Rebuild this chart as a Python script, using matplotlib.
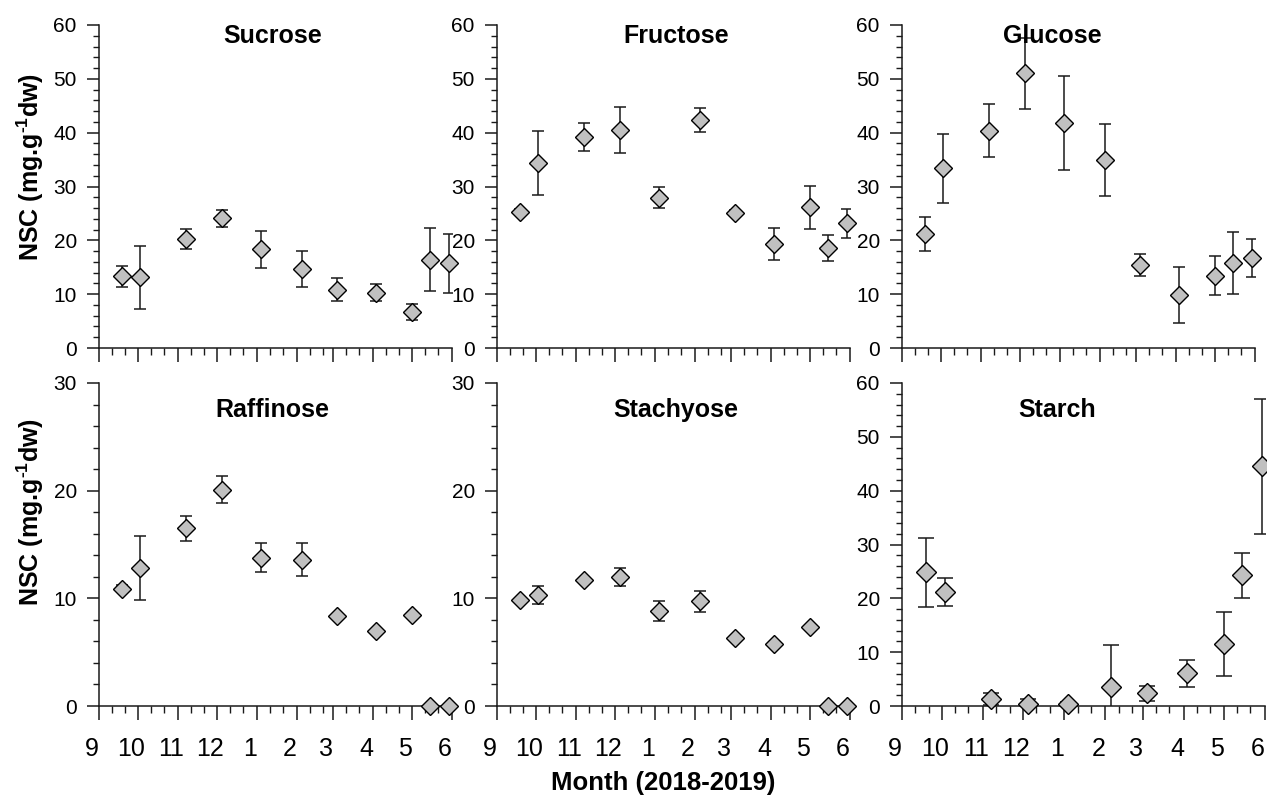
import matplotlib
matplotlib.use('Agg')
import matplotlib.pyplot as plt
import matplotlib.dates as mdates
import matplotlib.ticker as mticker
import matplotlib.transforms as mtransforms
import pandas as pd
import datetime as dt

plt.rcParams['font.family'] = ['Liberation Sans', 'DejaVu Sans']
plt.rcParams['mathtext.default'] = 'regular'

# ---------------- data ----------------
sample_dates = ['2018-09-19', '2018-10-03', '2018-11-07', '2018-12-05', '2019-01-04',
                '2019-02-05', '2019-03-04', '2019-04-03', '2019-05-01', '2019-05-15',
                '2019-05-30']

sucrose = [13.3, 13.1, 20.2, 24.1, 18.3, 14.7, 10.8, 10.3, 6.7, 16.4, 15.7]
sucrose_se = [2.0, 5.85, 1.85, 1.55, 3.35, 3.4, 2.15, 1.65, 1.55, 5.9, 5.55]

fructose = [25.3, 34.4, 39.2, 40.5, 27.9, 42.4, 25.1, 19.3, 26.1, 18.6, 23.2]
fructose_se = [0.6, 5.95, 2.6, 4.3, 1.95, 2.25, 0.6, 2.95, 3.95, 2.4, 2.7]

glucose = [21.2, 33.4, 40.4, 51.0, 41.8, 34.9, 15.4, 9.8, 13.4, 15.8, 16.7]
glucose_se = [3.15, 6.4, 5.0, 6.65, 8.8, 6.7, 2.1, 5.2, 3.6, 5.8, 3.55]

raffinose = [10.9, 12.8, 16.5, 20.1, 13.75, 13.6, 8.36, 6.97, 8.48, 0.0, 0.0]
raffinose_se = [0.3, 3.0, 1.15, 1.25, 1.35, 1.55, 0.2, 0.2, 0.2, 0.0, 0.0]

stachyose = [9.81, 10.34, 11.67, 11.98, 8.82, 9.72, 6.32, 5.79, 7.34, 0.0, 0.0]
stachyose_se = [0.2, 0.85, 0.2, 0.8, 0.9, 0.96, 0.2, 0.2, 0.2, 0.0, 0.0]

starch = [24.8, 21.2, 1.3, 0.43, 0.3, 3.5, 2.4, 6.1, 11.5, 24.3, 44.5]
starch_se = [6.5, 2.6, 1.1, 0.8, 0.4, 7.8, 1.4, 2.5, 5.95, 4.2, 12.6]

panel_titles = ['Sucrose', 'Fructose', 'Glucose', 'Raffinose', 'Stachyose', 'Starch']
y_label = 'NSC (mg.g$^{\u2010' + '1}$dw)'
x_label = 'Month (2018-2019)'

# ---------------- figure ----------------
W, H = 1267, 800
fig = plt.figure(figsize=(W / 100, H / 100), dpi=100)


def px_axes(left, top, width, height):
    return fig.add_axes([left / W, 1 - (top + height) / H, width / W, height / H])


dates = pd.to_datetime(sample_dates)
x0 = dt.datetime(2018, 9, 1)
x1 = dt.datetime(2019, 6, 1)

# (values, se, ymax, left, top, width, title_x, title_y, capsize, ms, show_xlabels)
panels = [
    (sucrose, sucrose_se, 60, 99, 25, 353, 0.4915, 0.966, 4.0, 8.8, False),
    (fructose, fructose_se, 60, 497, 25, 353, 0.5065, 0.966, 4.0, 8.8, False),
    (glucose, glucose_se, 60, 902, 25, 353, 0.426, 0.966, 4.0, 8.8, False),
    (raffinose, raffinose_se, 30, 99, 383, 353, 0.4915, 0.916, 4.3, 8.8, True),
    (stachyose, stachyose_se, 30, 497, 383, 353, 0.507, 0.916, 4.3, 8.8, True),
    (starch, starch_se, 60, 902, 383, 363, 0.426, 0.916, 6.0, 9.8, True),
]

month_fmt = mticker.FuncFormatter(lambda v, pos: str(mdates.num2date(v).month))
label_shift = mtransforms.ScaledTranslation(-7 / 100, 0, fig.dpi_scale_trans)

for title, (vals, se, ymax, l, t, w, tx, ty, cs, ms, showx) in zip(panel_titles, panels):
    ax = px_axes(l, t, w, 323)
    ax.errorbar(dates, vals, yerr=se, fmt='none', ecolor='#1a1a1a', elinewidth=1.1,
                capsize=cs, capthick=1.1, zorder=2)
    ax.plot(dates, vals, 'D', ms=ms, mfc='#c0c0c0', mec='black', mew=1.0,
            clip_on=False, zorder=3)
    ax.set_xlim(x0, x1)
    ax.set_ylim(0, ymax)
    for s in ['top', 'right']:
        ax.spines[s].set_visible(False)
    for s in ['left', 'bottom']:
        ax.spines[s].set_linewidth(1.1)
        ax.spines[s].set_color('#1a1a1a')
    ax.xaxis.set_major_locator(mdates.MonthLocator())
    ax.xaxis.set_minor_locator(mdates.DayLocator(bymonthday=[11, 21]))
    ax.xaxis.set_major_formatter(month_fmt)
    ax.yaxis.set_major_locator(mticker.MultipleLocator(10))
    ax.yaxis.set_minor_locator(mticker.MultipleLocator(2))
    ax.tick_params(axis='x', which='major', direction='out', length=10, width=1.1,
                   labelsize=18, pad=12, labelbottom=showx, color='#1a1a1a')
    ax.tick_params(axis='x', which='minor', direction='out', length=5, width=1.0,
                   color='#1a1a1a')
    ax.tick_params(axis='y', which='major', direction='out', length=9, width=1.1,
                   labelsize=15, pad=7, color='#1a1a1a')
    ax.tick_params(axis='y', which='minor', direction='out', length=4, width=1.0,
                   color='#1a1a1a')
    if showx:
        for lab in ax.get_xticklabels():
            lab.set_transform(lab.get_transform() + label_shift)
    ax.text(tx, ty, title, transform=ax.transAxes, ha='center', va='center',
            fontsize=18, fontweight='bold')

fig.text(30 / W, 1 - 167 / H, y_label, rotation=90, ha='center', va='center',
         fontsize=18, fontweight='bold')
fig.text(30 / W, 1 - 512 / H, y_label, rotation=90, ha='center', va='center',
         fontsize=18, fontweight='bold')
fig.text(663 / W, 1 - 783 / H, x_label, ha='center', va='center',
         fontsize=18.5, fontweight='bold')

fig.savefig('out.png', dpi=100)
